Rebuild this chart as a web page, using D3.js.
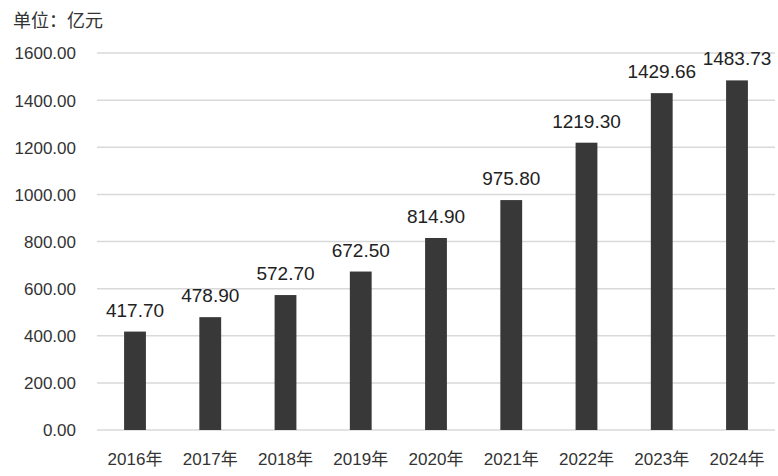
<!DOCTYPE html>
<html><head><meta charset="utf-8">
<script src="https://cdn.jsdelivr.net/npm/d3@7"></script>
<style>body{margin:0;background:#fff}svg{display:block}</style>
</head><body>
<svg id="c" width="778" height="476"></svg>
<script>
const categories = ["2016年","2017年","2018年","2019年","2020年","2021年","2022年","2023年","2024年"];
const values = [417.70, 478.90, 572.70, 672.50, 814.90, 975.80, 1219.30, 1429.66, 1483.73];
const yTicks = [0, 200, 400, 600, 800, 1000, 1200, 1400, 1600];
const unitLabel = "单位：亿元";

(function () {
const svg = d3.select("#c");
const font = "'Liberation Sans', Arial, 'Noto Sans CJK SC', sans-serif";
const mLeft = 97, mRight = 775, mTop = 53, mBottom = 430;
const x = d3.scaleBand().domain(categories).range([mLeft, mRight]).paddingInner(0.71).paddingOuter(0.36);
const y = d3.scaleLinear().domain([0, 1600]).range([mBottom, mTop]);

svg.append("text").attr("x", 13).attr("y", 27).attr("font-family", "'Noto Sans CJK SC', sans-serif")
  .attr("font-size", 18).attr("fill", "#333").text(unitLabel);

const grid = svg.append("g");
grid.selectAll("line").data(yTicks).join("line")
  .attr("x1", mLeft).attr("x2", mRight)
  .attr("y1", d => y(d)).attr("y2", d => y(d))
  .attr("stroke", "#d9d9d9").attr("stroke-width", 1.5);

const yAxis = d3.axisLeft(y).tickValues(yTicks).tickFormat(d => d3.format(".2f")(d)).tickSize(0).tickPadding(0);
const ya = svg.append("g").attr("transform", `translate(76,0)`).call(yAxis);
ya.select(".domain").remove();
ya.selectAll("text").attr("font-family", font).attr("font-size", 17).attr("fill", "#333").attr("dy", "0.35em");

svg.append("g").selectAll("rect").data(values).join("rect")
  .attr("x", (d, i) => x(categories[i])).attr("width", x.bandwidth())
  .attr("y", d => y(d)).attr("height", d => y(0) - y(d))
  .attr("fill", "#383838");

svg.append("g").selectAll("text").data(values).join("text")
  .attr("x", (d, i) => x(categories[i]) + x.bandwidth() / 2)
  .attr("y", d => y(d) - 15)
  .attr("text-anchor", "middle").attr("font-family", font).attr("font-size", 19).attr("fill", "#222")
  .text(d => d3.format(".2f")(d));

const xAxis = d3.axisBottom(x).tickSize(0).tickPadding(0);
const xa = svg.append("g").attr("transform", `translate(0,${mBottom})`).call(xAxis);
xa.select(".domain").remove();
xa.selectAll("text").attr("font-family", font).attr("font-size", 17).attr("fill", "#333").attr("dy", null).attr("y", 35);
})();
</script>
</body></html>
